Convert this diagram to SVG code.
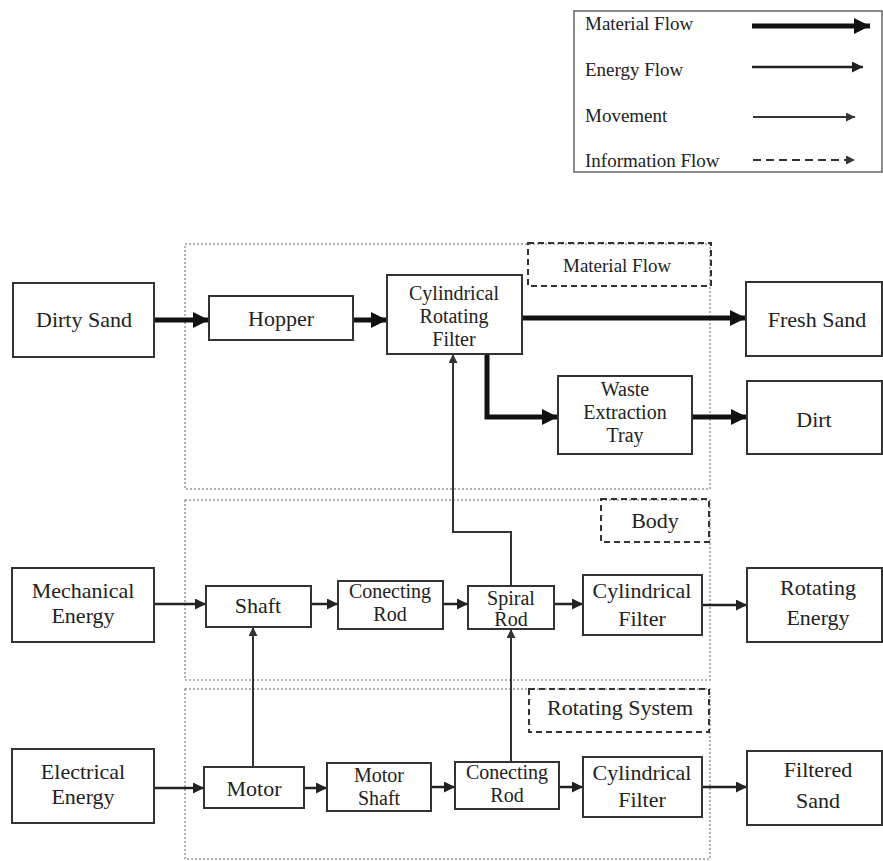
<svg xmlns="http://www.w3.org/2000/svg" width="883" height="861" viewBox="0 0 883 861">
<style>
text{font-family:"Liberation Serif","Times New Roman",serif;fill:#222;text-anchor:middle}
.n{font-size:22px}
.s{font-size:20px}
.lg{font-size:19px;text-anchor:start}
.box{fill:#fff;stroke:#333;stroke-width:2}
.region{fill:none;stroke:#999;stroke-width:1.5;stroke-dasharray:2 2}
.lbl{fill:none;stroke:#333;stroke-width:2;stroke-dasharray:6 4}
.mat{fill:none;stroke:#111;stroke-width:5;marker-end:url(#hm)}
.eng{fill:none;stroke:#222;stroke-width:2.5;marker-end:url(#he)}
.mov{fill:none;stroke:#333;stroke-width:2;marker-end:url(#hv)}
</style>
<defs>
<marker id="hm" markerUnits="userSpaceOnUse" markerWidth="18" markerHeight="16" refX="16" refY="8" orient="auto"><path d="M0,0 L16,8 L0,16 Z" fill="#111"/></marker>
<marker id="he" markerUnits="userSpaceOnUse" markerWidth="12" markerHeight="12" refX="11" refY="5.5" orient="auto"><path d="M0,0 L11,5.5 L0,11 Z" fill="#222"/></marker>
<marker id="hv" markerUnits="userSpaceOnUse" markerWidth="10" markerHeight="10" refX="9" refY="4.5" orient="auto"><path d="M0,0 L9,4.5 L0,9 Z" fill="#333"/></marker>
</defs>
<rect width="883" height="861" fill="#fff"/>

<g id="legend">
<rect x="574" y="11" width="308" height="161" fill="#fff" stroke="#666" stroke-width="1.5"/>
<text class="lg" x="585" y="30">Material Flow</text>
<text class="lg" x="585" y="76">Energy Flow</text>
<text class="lg" x="585" y="122">Movement</text>
<text class="lg" x="585" y="167">Information Flow</text>
<path d="M752 26 H870" class="mat"/>
<path d="M752 67 H863" class="eng"/>
<path d="M753 117 H855" class="mov"/>
<path d="M753 160 H855" class="mov" stroke-dasharray="8 5"/>
</g>

<g id="regions">
<rect class="region" x="185" y="244" width="525" height="245"/>
<rect class="region" x="185" y="500" width="525" height="180"/>
<rect class="region" x="185" y="689" width="525" height="170"/>
</g>

<g id="label-material"><rect class="lbl" x="528" y="243" width="183" height="43"/><text class="lg" x="563" y="272">Material Flow</text></g>
<g id="label-body"><rect class="lbl" x="601" y="499" width="108" height="43"/><text class="n" x="655" y="528">Body</text></g>
<g id="label-rotating"><rect class="lbl" x="529" y="689" width="180" height="43"/><text class="n" x="620" y="715">Rotating System</text></g>

<g id="connectors">
<path class="mat" d="M154 320 H209"/>
<path class="mat" d="M353 320 H387"/>
<path class="mat" d="M522 318 H746"/>
<path class="mat" d="M487 354 V417 H558"/>
<path class="mat" d="M692 417 H747"/>
<path class="eng" d="M154 604 H206"/>
<path class="eng" d="M311 604 H338"/>
<path class="eng" d="M443 604 H468"/>
<path class="eng" d="M554 604 H583"/>
<path class="eng" d="M702 605 H747"/>
<path class="mov" d="M511 586 V532 H453 V354"/>
<path class="mov" d="M253 767 V627"/>
<path class="mov" d="M511 762 V629"/>
<path class="eng" d="M154 788 H204"/>
<path class="eng" d="M304 788 H327"/>
<path class="eng" d="M431 787 H455"/>
<path class="eng" d="M559 787 H583"/>
<path class="eng" d="M702 787 H747"/>
</g>

<g id="dirty-sand"><rect class="box" x="13" y="283" width="141" height="74"/><text class="n" x="84" y="327">Dirty Sand</text></g>
<g id="hopper"><rect class="box" x="209" y="296" width="144" height="44"/><text class="n" x="281" y="326">Hopper</text></g>
<g id="crf"><rect class="box" x="387" y="275" width="135" height="79"/><text class="s" x="454" y="300">Cylindrical</text><text class="s" x="454" y="323">Rotating</text><text class="s" x="454" y="346">Filter</text></g>
<g id="fresh-sand"><rect class="box" x="746" y="282" width="136" height="74"/><text class="n" x="817" y="327">Fresh Sand</text></g>
<g id="waste-tray"><rect class="box" x="558" y="376" width="134" height="78"/><text class="s" x="625" y="396">Waste</text><text class="s" x="625" y="419">Extraction</text><text class="s" x="625" y="442">Tray</text></g>
<g id="dirt"><rect class="box" x="747" y="381" width="135" height="73"/><text class="n" x="814" y="427">Dirt</text></g>

<g id="mechanical-energy"><rect class="box" x="12" y="568" width="142" height="74"/><text class="n" x="83" y="598">Mechanical</text><text class="n" x="83" y="623">Energy</text></g>
<g id="shaft"><rect class="box" x="206" y="586" width="105" height="41"/><text class="n" x="258" y="613">Shaft</text></g>
<g id="conecting-rod-1"><rect class="box" x="338" y="581" width="105" height="48"/><text class="s" x="390" y="598">Conecting</text><text class="s" x="390" y="621">Rod</text></g>
<g id="spiral-rod"><rect class="box" x="468" y="586" width="86" height="43"/><text class="s" x="511" y="605">Spiral</text><text class="s" x="511" y="626">Rod</text></g>
<g id="cyl-filter-1"><rect class="box" x="583" y="575" width="119" height="60"/><text class="n" x="642" y="598">Cylindrical</text><text class="n" x="642" y="626">Filter</text></g>
<g id="rotating-energy"><rect class="box" x="747" y="568" width="135" height="74"/><text class="n" x="818" y="595">Rotating</text><text class="n" x="818" y="625">Energy</text></g>

<g id="electrical-energy"><rect class="box" x="12" y="749" width="142" height="74"/><text class="n" x="83" y="779">Electrical</text><text class="n" x="83" y="804">Energy</text></g>
<g id="motor"><rect class="box" x="204" y="767" width="100" height="41"/><text class="n" x="254" y="796">Motor</text></g>
<g id="motor-shaft"><rect class="box" x="327" y="763" width="104" height="48"/><text class="s" x="379" y="782">Motor</text><text class="s" x="379" y="805">Shaft</text></g>
<g id="conecting-rod-2"><rect class="box" x="455" y="762" width="104" height="47"/><text class="s" x="507" y="779">Conecting</text><text class="s" x="507" y="802">Rod</text></g>
<g id="cyl-filter-2"><rect class="box" x="583" y="757" width="119" height="60"/><text class="n" x="642" y="780">Cylindrical</text><text class="n" x="642" y="807">Filter</text></g>
<g id="filtered-sand"><rect class="box" x="747" y="751" width="135" height="74"/><text class="n" x="818" y="777">Filtered</text><text class="n" x="818" y="808">Sand</text></g>
</svg>
